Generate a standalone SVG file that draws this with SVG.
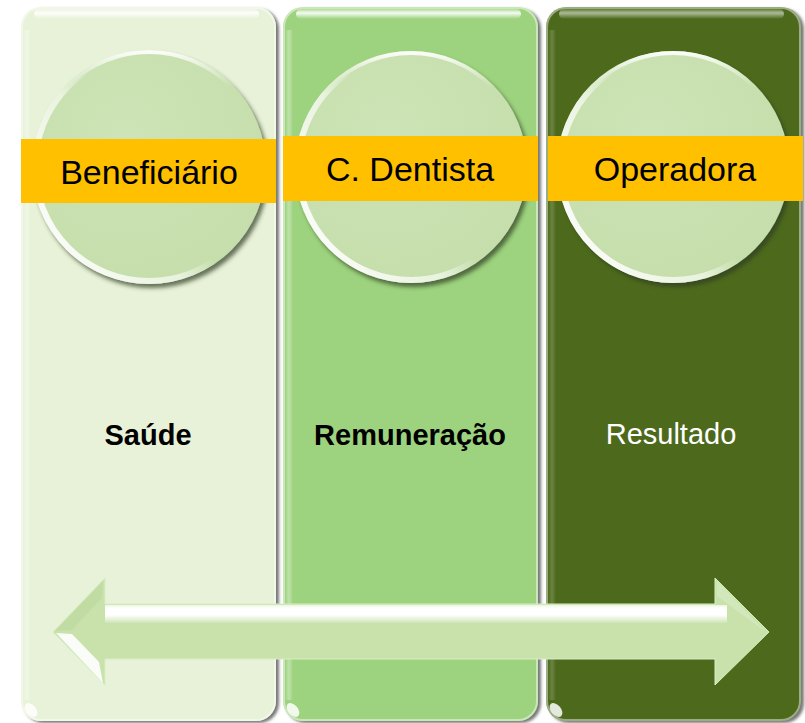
<svg xmlns="http://www.w3.org/2000/svg" width="805" height="723" viewBox="0 0 805 723">
<defs>
<style>
.hdr{font-family:"Liberation Sans",Arial,sans-serif;font-size:34px;fill:#000;text-anchor:middle}
.mid{font-family:"Liberation Sans",Arial,sans-serif;font-size:29px;text-anchor:middle}
.band{fill:#FFC000}
.circ{fill:url(#circFill);filter:url(#circShadow)}
.rim{fill:none;stroke:url(#rimGrad);stroke-width:6}
.rimTop{fill:none;stroke:url(#rimTopGrad);stroke-width:4}
.gloss{fill:url(#glossGrad)}
.edge{fill:none;stroke:#ffffff;stroke-opacity:0.45;stroke-width:2}
.lstrip{fill:url(#leftStrip)}
.glint{fill:#ffffff;opacity:0.85}
</style>
<filter id="colShadow" x="-10%" y="-5%" width="125%" height="110%">
<feDropShadow dx="3" dy="2" stdDeviation="1.6" flood-color="#4a4a4a" flood-opacity="0.75"/>
</filter>
<filter id="circShadow" x="-15%" y="-15%" width="135%" height="135%">
<feDropShadow dx="3" dy="4" stdDeviation="2.2" flood-color="#2e3a20" flood-opacity="0.7"/>
</filter>
<radialGradient id="circFill" cx="0.4" cy="0.35" r="0.7">
<stop offset="0" stop-color="#CDE4B6"/>
<stop offset="1" stop-color="#C5DEAB"/>
</radialGradient>
<linearGradient id="rimGrad" x1="0" y1="0.9" x2="0.9" y2="0.3">
<stop offset="0" stop-color="#ffffff" stop-opacity="1"/>
<stop offset="0.45" stop-color="#ffffff" stop-opacity="0.6"/>
<stop offset="0.6" stop-color="#ffffff" stop-opacity="0"/>
</linearGradient>
<linearGradient id="rimTopGrad" x1="0" y1="0" x2="0" y2="1">
<stop offset="0" stop-color="#ffffff" stop-opacity="0.9"/>
<stop offset="0.15" stop-color="#ffffff" stop-opacity="0"/>
</linearGradient>
<linearGradient id="glossGrad" x1="0" y1="0" x2="0" y2="1">
<stop offset="0" stop-color="#ffffff" stop-opacity="0.2"/>
<stop offset="0.4" stop-color="#ffffff" stop-opacity="0.9"/>
<stop offset="1" stop-color="#ffffff" stop-opacity="0"/>
</linearGradient>
<linearGradient id="leftStrip" x1="0" y1="0" x2="1" y2="0">
<stop offset="0" stop-color="#ffffff" stop-opacity="0"/>
<stop offset="0.5" stop-color="#ffffff" stop-opacity="0.35"/>
<stop offset="1" stop-color="#ffffff" stop-opacity="0"/>
</linearGradient>
<linearGradient id="shaftHi" x1="0" y1="604" x2="0" y2="624" gradientUnits="userSpaceOnUse">
<stop offset="0" stop-color="#e4f2d4"/>
<stop offset="0.2" stop-color="#ffffff"/>
<stop offset="0.55" stop-color="#ffffff"/>
<stop offset="1" stop-color="#ffffff" stop-opacity="0"/>
</linearGradient>
</defs>

<g id="col-beneficiario">
<rect x="21" y="7" width="255" height="714" rx="20" fill="#E8F2D8" filter="url(#colShadow)"/>
<rect x="22" y="8" width="253" height="712" rx="19" class="edge"/>
<rect x="23" y="30" width="8" height="670" class="lstrip"/>
<rect x="34" y="9" width="225" height="10" rx="5" class="gloss"/>
<ellipse cx="31" cy="710" rx="5" ry="8" transform="rotate(-40 31 710)" class="glint"/>
<circle cx="149" cy="167" r="117" class="circ"/>
<circle cx="149" cy="167" r="114" class="rim"/>
<circle cx="149" cy="167" r="115" class="rimTop"/>
<rect x="21" y="139" width="255" height="64" class="band"/>
<text x="149" y="184" class="hdr">Beneficiário</text>
<text x="148" y="445" class="mid" font-weight="bold" fill="#000">Saúde</text>
</g>

<g id="col-dentista">
<rect x="283" y="7" width="255" height="714" rx="20" fill="#9DD37E" filter="url(#colShadow)"/>
<rect x="284" y="8" width="253" height="712" rx="19" class="edge"/>
<rect x="285" y="30" width="8" height="670" class="lstrip"/>
<rect x="296" y="9" width="225" height="10" rx="5" class="gloss"/>
<ellipse cx="293" cy="710" rx="5" ry="8" transform="rotate(-40 293 710)" class="glint"/>
<circle cx="411" cy="167" r="116" class="circ"/>
<circle cx="411" cy="167" r="113" class="rim"/>
<circle cx="411" cy="167" r="114" class="rimTop"/>
<rect x="283" y="136" width="255" height="65" class="band"/>
<text x="410" y="181" class="hdr">C. Dentista</text>
<text x="410" y="445" class="mid" font-weight="bold" fill="#000">Remuneração</text>
</g>

<g id="col-operadora">
<rect x="546" y="7" width="255" height="714" rx="20" fill="#4E6A1C" filter="url(#colShadow)"/>
<rect x="547" y="8" width="253" height="712" rx="19" class="edge" stroke-opacity="0.3"/>
<rect x="548" y="30" width="8" height="670" class="lstrip" opacity="0.5"/>
<rect x="559" y="9" width="225" height="10" rx="5" class="gloss" opacity="0.6"/>
<ellipse cx="556" cy="710" rx="5" ry="8" transform="rotate(-40 556 710)" class="glint"/>
<circle cx="673" cy="167" r="116" class="circ"/>
<circle cx="673" cy="167" r="113" class="rim"/>
<circle cx="673" cy="167" r="114" class="rimTop"/>
<rect x="548" y="136" width="255" height="65" class="band"/>
<text x="675" y="181" class="hdr">Operadora</text>
<text x="671" y="444" class="mid" fill="#ffffff">Resultado</text>
</g>

<g id="connectors">
<path d="M53,632 L105,578 L105,604 L715,604 L715,578 L769,632 L715,685 L715,659 L105,659 L105,685 Z" fill="#C9E2AB" stroke="#d8ecc4" stroke-width="1"/>
<rect x="105" y="605" width="622" height="18" fill="url(#shaftHi)"/>
<polygon points="56,633 72,634 99,662 103,683" fill="#ffffff" opacity="0.9"/>
<polygon points="55,631 103,581 102,598 72,630" fill="#bcd99f" opacity="0.6"/>
<polygon points="717,581 766,632 717,596" fill="#d6ebc2" opacity="0.7"/>
</g>
</svg>
